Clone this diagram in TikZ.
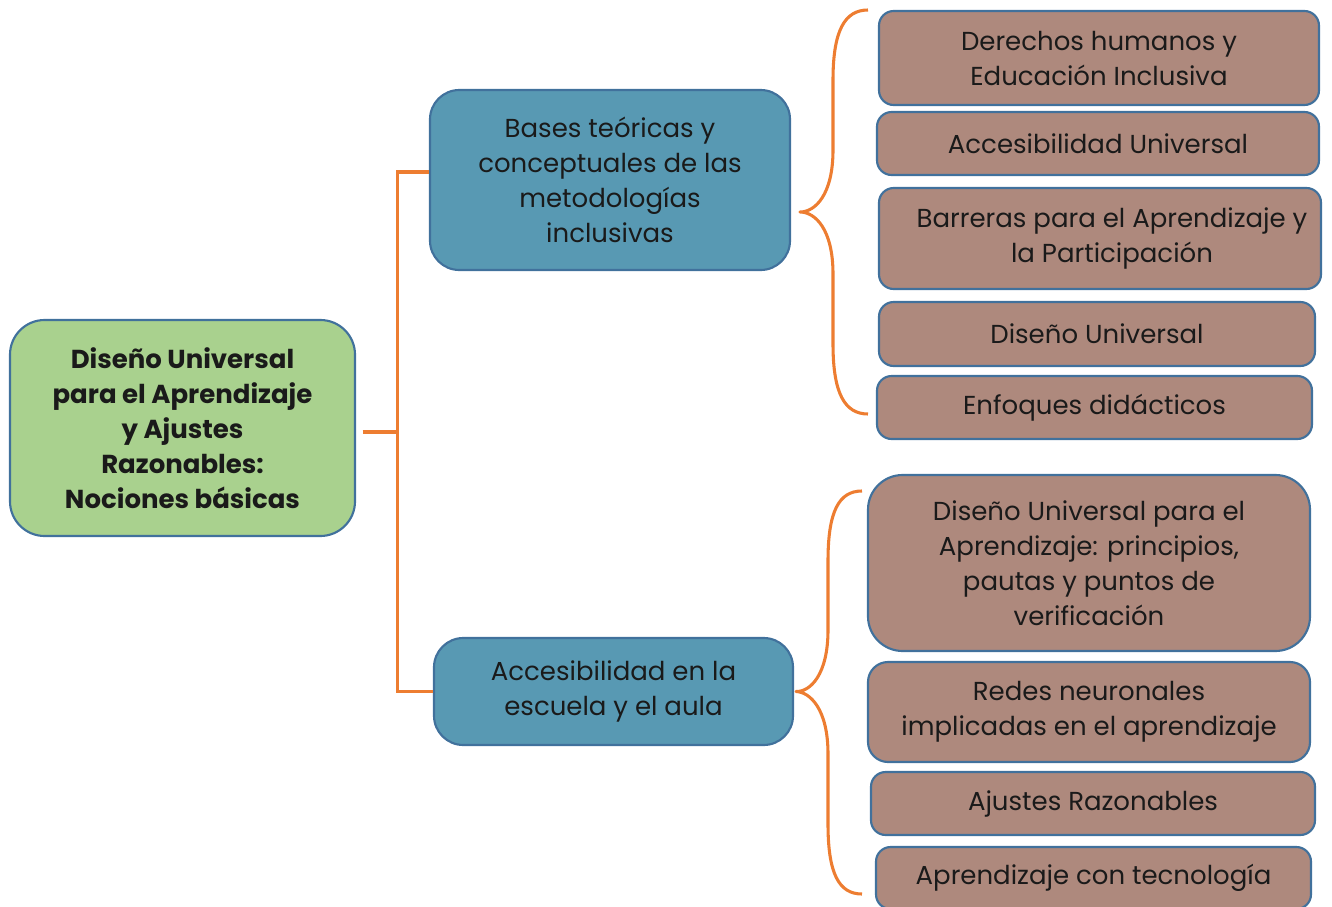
\documentclass[tikz,border=0pt]{standalone}
\usepackage{fontspec}
\setmainfont{Poppins}
\definecolor{rootfill}{HTML}{A9D18E}
\definecolor{midfill}{HTML}{5899B3}
\definecolor{leaffill}{HTML}{AE897D}
\definecolor{edge}{HTML}{41719C}
\definecolor{conncol}{HTML}{ED7D31}
\definecolor{txt}{HTML}{1A1A1A}
\begin{document}
\begin{tikzpicture}[x=0.75pt,y=-0.75pt,
  box/.style={draw=edge, line width=1.6pt, align=center, text=txt, inner sep=2pt,
    font=\fontsize{19.5}{26.25}\selectfont},
  rootbox/.style={box, fill=rootfill, rounded corners=26pt, font=\fontsize{19.5}{26.25}\selectfont\bfseries},
  midbox/.style={box, fill=midfill, rounded corners=22pt},
  leafbox/.style={box, fill=leaffill, rounded corners=11pt},
  conn/.style={draw=conncol, line width=2.3pt, line join=miter}]
\useasboundingbox (0,0) rectangle (1332,907);

\node[rootbox, minimum width=258.75pt, minimum height=162pt] (root) at (182.5,428)
  {Diseño Universal\\para el Aprendizaje\\y Ajustes\\Razonables:\\Nociones básicas};
\node[midbox, minimum width=270pt, minimum height=135pt] (b1) at (610,180)
  {Bases teóricas y\\conceptuales de las\\metodologías\\inclusivas};
\node[midbox, minimum width=269.25pt, minimum height=80.25pt] (b2) at (613.5,691.5)
  {Accesibilidad en la\\escuela y el aula};

\node[leafbox, minimum width=330pt, minimum height=70.5pt] (l1) at (1099,58)
  {Derechos humanos y\\Educación Inclusiva};
\node[leafbox, minimum width=331.5pt, minimum height=47.25pt] (l2) at (1098,143.5)
  {Accesibilidad Universal};
\node[leafbox, minimum width=331.5pt, minimum height=75.75pt] (l3) at (1100,238.5)
  {\hspace*{18pt}Barreras para el Aprendizaje y\\\hspace*{18pt}la Participación};
\node[leafbox, minimum width=327pt, minimum height=48pt] (l4) at (1097,334)
  {Diseño Universal};
\node[leafbox, minimum width=326.25pt, minimum height=47.25pt] (l5) at (1094.5,407.5)
  {Enfoques didácticos};
\node[leafbox, rounded corners=26pt, minimum width=331.5pt, minimum height=132pt] (l6) at (1089,563)
  {Diseño Universal para el\\Aprendizaje: principios,\\pautas y puntos de\\verificación};
\node[leafbox, rounded corners=15pt, minimum width=331.5pt, minimum height=75pt] (l7) at (1089,712)
  {Redes neuronales\\implicadas en el aprendizaje};
\node[leafbox, minimum width=333pt, minimum height=47.25pt] (l8) at (1093,803.5)
  {Ajustes Razonables};
\node[leafbox, minimum width=326.25pt, minimum height=46.5pt] (l9) at (1093.5,878)
  {Aprendizaje con tecnología};

% tree connector
\coordinate (hub) at ([xshift=30.75pt,yshift=-3pt]root.east);
\draw[conn] ([xshift=5pt,yshift=-3pt]root.east) -- (hub);
\draw[conn] ([yshift=6pt]b1.west) -| (hub) |- (b2.west);

% brace 1
\coordinate (t1) at (800,212);
\coordinate (a1) at (868,10);
\coordinate (e1) at (868,414);
\draw[conn, line join=round] (a1) .. controls (845,10) and (833,30) .. (833,80) -- (833,150)
  .. controls (833,195) and (815,212) .. (t1)
  .. controls (815,212) and (833,229) .. (833,274) -- (833,344)
  .. controls (833,394) and (845,414) .. (e1);

% brace 2
\coordinate (t2) at ([xshift=1.5pt]b2.east);
\coordinate (a2) at (862,491);
\coordinate (e2) at (862,894);
\draw[conn, line join=round] (a2) .. controls (839,491) and (828,511) .. (828,561) -- (828,630)
  .. controls (828,675) and (810,692) .. (t2)
  .. controls (810,692) and (828,709) .. (828,754) -- (828,824)
  .. controls (828,874) and (839,894) .. (e2);
\end{tikzpicture}
\end{document}
